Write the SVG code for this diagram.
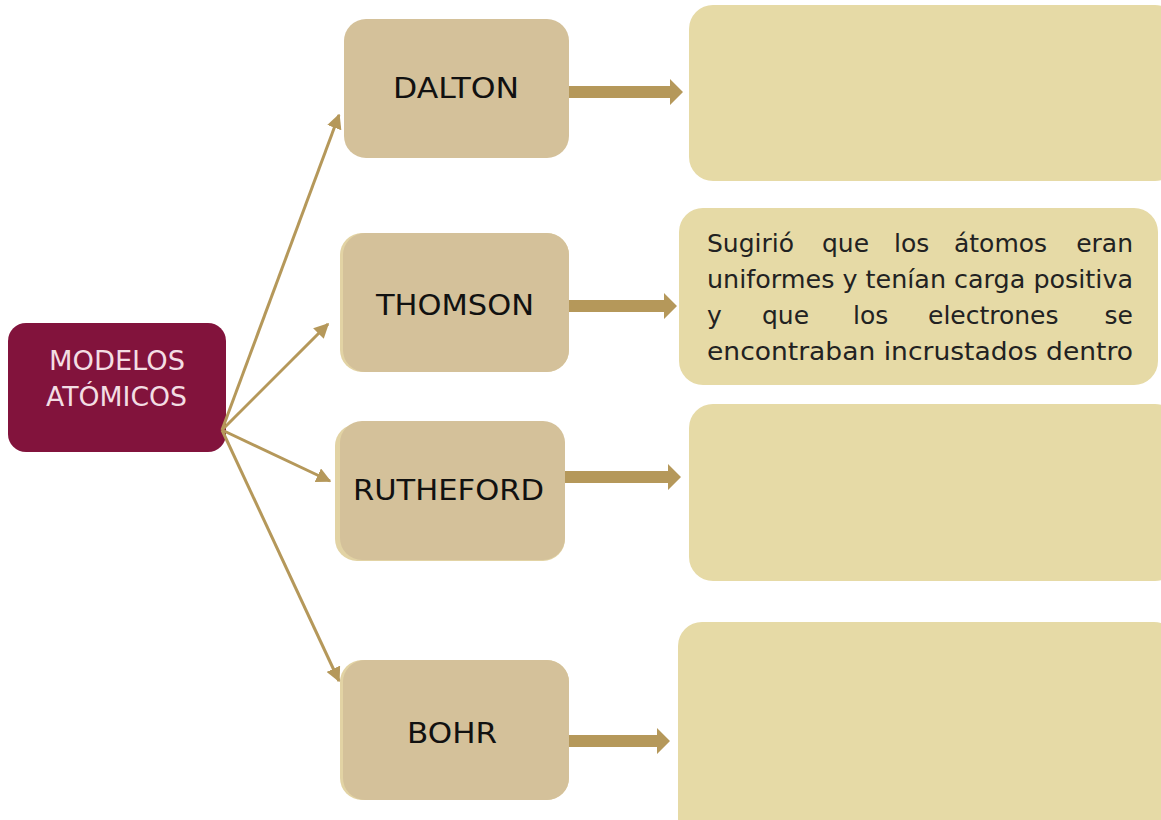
<svg xmlns="http://www.w3.org/2000/svg" width="1161" height="820" viewBox="0 0 1161 820">
<style>
.mid{fill:#D4C19A}
.right{fill:#E6DAA6}
.lbl{font-family:"DejaVu Sans","Noto Sans",sans-serif;font-size:28px;fill:#111}
.root{font-family:"DejaVu Sans","Noto Sans",sans-serif;font-size:27px;fill:#F3DDE3}
.para{font-family:"DejaVu Sans","Noto Sans",sans-serif;font-size:25px;fill:#222}
.thin{stroke:#B5985A;stroke-width:3;fill:none;marker-end:url(#ah)}
.thick{fill:#B5985A}
</style>
<defs>
<marker id="ah" viewBox="0 0 10 10" refX="9" refY="5" markerWidth="5" markerHeight="5" orient="auto" markerUnits="strokeWidth">
<path d="M0,0 L10,5 L0,10 Z" fill="#B5985A"/>
</marker>
</defs>
<rect width="1161" height="820" fill="#fff"/>
<g id="root">
<rect x="8" y="323" width="218" height="129" rx="18" fill="#82133C"/>
<text class="root" x="49" y="370" textLength="136" lengthAdjust="spacingAndGlyphs">MODELOS</text>
<text class="root" x="46" y="406" textLength="141" lengthAdjust="spacingAndGlyphs">ATÓMICOS</text>
</g>
<g id="dalton">
<rect class="mid" x="344" y="19" width="225" height="139" rx="22"/>
<text class="lbl" x="393" y="98" textLength="126" lengthAdjust="spacingAndGlyphs">DALTON</text>
</g>
<g id="thomson">
<rect x="340" y="233" width="229" height="139" rx="22" fill="#E2D3A4"/>
<rect class="mid" x="343" y="233" width="226" height="139" rx="22"/>
<text class="lbl" x="376" y="315" textLength="158" lengthAdjust="spacingAndGlyphs">THOMSON</text>
</g>
<g id="rutheford">
<rect x="335" y="424" width="230" height="137" rx="22" fill="#E2D3A4"/>
<rect class="mid" x="340" y="421" width="225" height="139" rx="22"/>
<text class="lbl" x="353" y="500" textLength="191" lengthAdjust="spacingAndGlyphs">RUTHEFORD</text>
</g>
<g id="bohr">
<rect x="340" y="660" width="229" height="140" rx="22" fill="#E2D3A4"/>
<rect class="mid" x="343" y="660" width="226" height="140" rx="22"/>
<text class="lbl" x="407" y="743" textLength="90" lengthAdjust="spacingAndGlyphs">BOHR</text>
</g>
<g id="desc-dalton">
<rect class="right" x="689" y="5" width="490" height="176" rx="24"/>
</g>
<g id="desc-thomson">
<rect class="right" x="679" y="208" width="479" height="177" rx="24"/>
<text class="para" y="252"><tspan x="707">Sugirió</tspan><tspan x="822">que</tspan><tspan x="894">los</tspan><tspan x="954">átomos</tspan><tspan x="1133" text-anchor="end">eran</tspan></text>
<text class="para" x="707" y="288" textLength="426" lengthAdjust="spacingAndGlyphs">uniformes y tenían carga positiva</text>
<text class="para" y="324"><tspan x="707">y</tspan><tspan x="762">que</tspan><tspan x="853">los</tspan><tspan x="928">electrones</tspan><tspan x="1133" text-anchor="end">se</tspan></text>
<text class="para" x="707" y="360" textLength="426" lengthAdjust="spacingAndGlyphs">encontraban incrustados dentro</text>
</g>
<g id="desc-rutheford">
<rect class="right" x="689" y="404" width="490" height="177" rx="24"/>
</g>
<g id="desc-bohr">
<rect class="right" x="678" y="622" width="500" height="220" rx="24"/>
</g>
<g id="connectors">
<line class="thin" x1="222" y1="430" x2="339" y2="115"/>
<line class="thin" x1="222" y1="430" x2="328" y2="324"/>
<line class="thin" x1="222" y1="430" x2="330" y2="481"/>
<line class="thin" x1="222" y1="430" x2="339" y2="681"/>
<path class="thick" d="M569,86 H670 V79 L683,92 L670,105 V98 H569 Z"/>
<path class="thick" d="M569,300 H664 V293 L677,306 L664,319 V312 H569 Z"/>
<path class="thick" d="M565,471 H668 V464 L681,477 L668,490 V483 H565 Z"/>
<path class="thick" d="M569,735 H657 V728 L670,741 L657,754 V747 H569 Z"/>
</g>
</svg>
